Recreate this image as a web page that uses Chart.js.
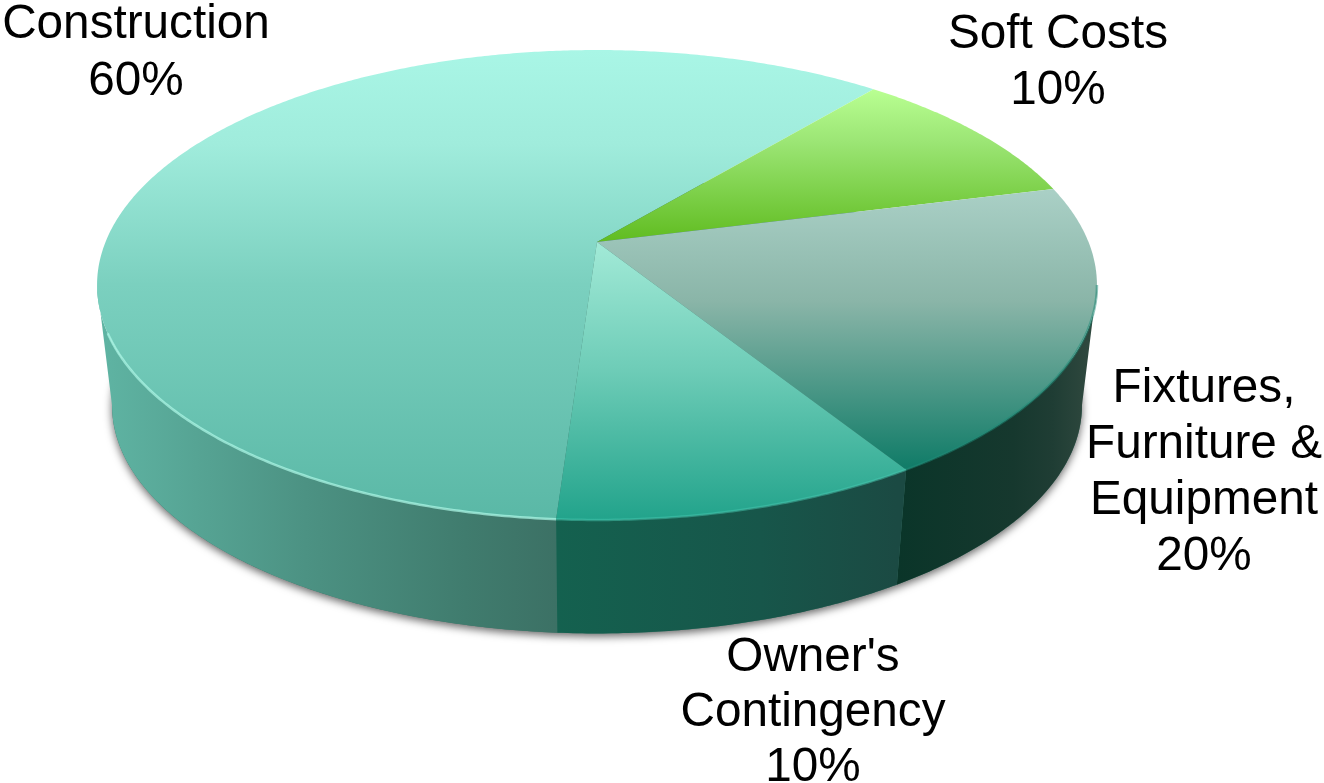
<!DOCTYPE html>
<html>
<head>
<meta charset="utf-8">
<title>Project budget</title>
<script src="https://cdn.jsdelivr.net/npm/chart.js@4"></script>
<style>
  html, body { margin: 0; padding: 0; background: #fff; overflow: hidden; }
  canvas { display: block; }
</style>
</head>
<body>
<canvas id="pie3d" width="1324" height="783"></canvas>
<script>
const categories = ['Construction', 'Soft Costs', 'Fixtures, Furniture & Equipment', "Owner's Contingency"];
const shares = [60, 10, 20, 10];
const labelLines = [['Construction'], ['Soft Costs'], ['Fixtures,', 'Furniture &', 'Equipment'], ["Owner's", 'Contingency']];

// slice looks, same order as categories
const topStops = [
    [[0, '#a9f6e6'], [0.2, '#a0ecdc'], [0.5, '#7bd0bf'], [1, '#5ab8a6']],
    [[0, '#b9ff92'], [0.35, '#9be574'], [1, '#60bc20']],
    [[0, '#aad0c6'], [0.4, '#8ab5a8'], [1, '#0f7b67']],
    [[0, '#a2ead7'], [0.45, '#6fcdb8'], [1, '#22a38b']]
];
const wallStops = [
    [[0, '#5fb4a3'], [0.45, '#4c9283'], [0.8, '#407c6e'], [1, '#3c7165']],
    [[0, '#5a9a8a'], [1, '#5a9a8a']],
    [[0, '#0a3529'], [0.6, '#16382e'], [0.8, '#1f3d34'], [1, '#30493f']],
    [[0, '#14614f'], [0.6, '#17564a'], [1, '#1b4a43']]
];
const wallRange = [[100, 556], [1000, 1090], [897, 1092], [556, 897]];
const rimColors = ['rgba(175,250,232,0.7)', null, 'rgba(30,140,120,0.5)', 'rgba(70,200,175,0.5)'];
const labelPos = [[136, 38, 57], [1058, 48, 56], [1204, 402, 56], [813, 671, 55]];

// perspective of the pie disc
const CX = 597, CY = 242, TILT = 0.183, RX = 491.5, RY = 227.1;
const DEPTH = 121.8, BOTTOM_SCALE = 0.97;
const FRONT_START = Math.asin(TILT), FRONT_END = Math.PI - FRONT_START; // where the wall meets the outline

function project(angle, r, bottom) {
    const u = Math.cos(angle) * r, v = Math.sin(angle) * r;
    const w = 1 - TILT * v;
    const s = bottom ? BOTTOM_SCALE : 1;
    return [CX + RX * u / w * s, CY + RY * v / w * s + (bottom ? DEPTH : 0)];
}

function rimPoints(start, end, bottom) {
    const pts = [];
    const steps = Math.ceil((end - start) / (Math.PI / 360));
    for (let i = 0; i <= steps; i++) {
        pts.push(project(start + (end - start) * i / steps, 1, bottom));
    }
    return pts;
}

// part of an arc that faces the viewer, null when it is all at the back
function frontPart(arc) {
    const turn = arc.startAngle > FRONT_END ? Math.PI * 2 : 0;
    const start = Math.max(arc.startAngle - turn, FRONT_START);
    const end = Math.min(arc.endAngle - turn, FRONT_END);
    return end > start ? [start, end] : null;
}

function tracePath(ctx, pts) {
    ctx.beginPath();
    pts.forEach((p, i) => i ? ctx.lineTo(p[0], p[1]) : ctx.moveTo(p[0], p[1]));
    ctx.closePath();
}

function stopsGradient(grad, stops) {
    stops.forEach(s => grad.addColorStop(s[0], s[1]));
    return grad;
}

const pie3dPlugin = {
    id: 'pie3d',
    beforeDatasetDraw(chart) {
        const ctx = chart.ctx;
        const arcs = chart.getDatasetMeta(0).data;
        ctx.save();

        // soft shadow under the disc
        ctx.save();
        ctx.shadowColor = 'rgba(0,0,0,0.6)';
        ctx.shadowBlur = 9;
        ctx.shadowOffsetY = 3;
        ctx.fillStyle = '#3e7468';
        tracePath(ctx, rimPoints(0, Math.PI * 2, true));
        ctx.fill();
        ctx.restore();

        // side walls, front part only
        arcs.forEach((arc, i) => {
            const part = frontPart(arc);
            if (!part) return;
            const top = rimPoints(part[0], part[1], false);
            const bot = rimPoints(part[0], part[1], true).reverse();
            const r = wallRange[i];
            ctx.fillStyle = stopsGradient(ctx.createLinearGradient(r[0], 0, r[1], 0), wallStops[i]);
            tracePath(ctx, top.concat(bot));
            ctx.fill();
        });

        // top face
        arcs.forEach((arc, i) => {
            const pts = [project(0, 0, false)].concat(rimPoints(arc.startAngle, arc.endAngle, false));
            const ys = pts.map(p => p[1]);
            const grad = ctx.createLinearGradient(0, Math.min(...ys), 0, Math.max(...ys));
            ctx.fillStyle = stopsGradient(grad, topStops[i]);
            tracePath(ctx, pts);
            ctx.fill();
        });

        // lit front edge
        ctx.lineWidth = 2.5;
        arcs.forEach((arc, i) => {
            const part = frontPart(arc);
            if (!part || !rimColors[i]) return;
            const pts = rimPoints(part[0], Math.min(part[1], FRONT_END - 0.2), false);
            ctx.strokeStyle = rimColors[i];
            ctx.beginPath();
            pts.forEach((p, j) => j ? ctx.lineTo(p[0], p[1]) : ctx.moveTo(p[0], p[1]));
            ctx.stroke();
        });

        ctx.restore();
        return false; // the flat arcs are replaced by the tilted ones
    },
    afterDraw(chart) {
        const ctx = chart.ctx;
        const values = chart.data.datasets[0].data;
        ctx.save();
        ctx.fillStyle = '#000';
        ctx.font = '47.7px "Liberation Sans", Arial, sans-serif';
        ctx.textAlign = 'center';
        chart.data.labels.forEach((lines, i) => {
            const pos = labelPos[i];
            lines.concat(values[i] + '%').forEach((line, j) => {
                ctx.fillText(line, pos[0], pos[1] + j * pos[2]);
            });
        });
        ctx.restore();
    }
};

new Chart(document.getElementById('pie3d').getContext('2d'), {
    type: 'pie',
    data: {
        labels: labelLines,
        datasets: [{
            label: categories.join(', '),
            data: shares,
            backgroundColor: ['#7bd0bf', '#9be574', '#8ab5a8', '#6fcdb8'],
            borderWidth: 0
        }]
    },
    options: {
        responsive: false,
        animation: false,
        rotation: 183.9,
        plugins: {
            legend: { display: false },
            tooltip: { enabled: false }
        }
    },
    plugins: [pie3dPlugin]
});
</script>
</body>
</html>
